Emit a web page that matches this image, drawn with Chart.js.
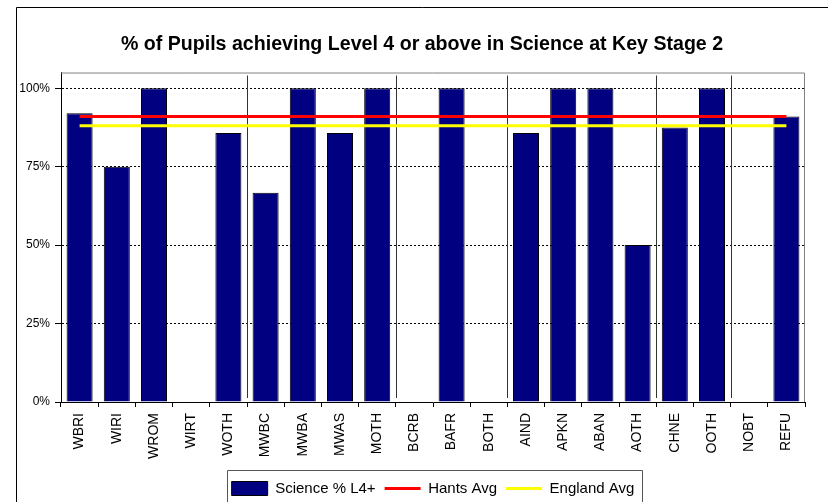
<!DOCTYPE html>
<html>
<head>
<meta charset="utf-8">
<script src="https://cdn.jsdelivr.net/npm/chart.js@4"></script>
<style>
html, body { margin: 0; padding: 0; overflow: hidden; background: #fff; }
#wrap { width: 828px; height: 502px; overflow: hidden; }
</style>
</head>
<body>
<div id="wrap"><canvas id="chart" width="828" height="506"></canvas></div>
<script>
const categories = ["WBRI","WIRI","WROM","WIRT","WOTH","MWBC","MWBA","MWAS","MOTH","BCRB","BAFR","BOTH","AIND","APKN","ABAN","AOTH","CHNE","OOTH","NOBT","REFU"]
const science = [92, 75, 100, 0, 85.7, 66.7, 100, 85.7, 100, 0, 100, 0, 85.7, 100, 100, 50, 87.5, 100, 0, 91]
const hantsAvg = [91, 91, 91, 91, 91, 91, 91, 91, 91, 91, 91, 91, 91, 91, 91, 91, 91, 91, 91, 91]
const englandAvg = [88, 88, 88, 88, 88, 88, 88, 88, 88, 88, 88, 88, 88, 88, 88, 88, 88, 88, 88, 88]
const yTicks = [0, 25, 50, 75, 100]
// group separators sit before these categories
const groupStarts = [5, 9, 12, 16, 18]

const font = "'Liberation Sans', Arial, sans-serif"

// frame, plot border, group separators, legend border
const extras = {
id: "extras",
beforeDatasetsDraw(chart){
const ctx = chart.ctx
const a = chart.chartArea
const x = chart.scales.x
ctx.save()
ctx.strokeStyle = "#808080"
ctx.lineWidth = 1
ctx.beginPath()
ctx.moveTo(a.left, a.top + 0.5)
ctx.lineTo(a.right - 0.5, a.top + 0.5)
ctx.lineTo(a.right - 0.5, a.bottom)
ctx.stroke()
const half = (x.getPixelForValue(1) - x.getPixelForValue(0)) / 2
ctx.strokeStyle = "#333"
groupStarts.forEach(i => {
const px = Math.round(x.getPixelForValue(i) - half) + 0.5
ctx.beginPath()
ctx.moveTo(px, a.top + 3)
ctx.lineTo(px, a.bottom - 4)
ctx.stroke()
})
ctx.restore()
},
afterDraw(chart){
const ctx = chart.ctx
ctx.save()
ctx.strokeStyle = "#000"
ctx.lineWidth = 1
ctx.beginPath()
ctx.moveTo(16.5, 520)
ctx.lineTo(16.5, 7.5)
ctx.lineTo(840, 7.5)
ctx.stroke()
const boxes = chart.legend.legendHitBoxes
if (boxes && boxes.length) {
const first = boxes[0]
const last = boxes[boxes.length - 1]
const l = Math.round(first.left - 5) + 0.5
const r = Math.round(last.left + last.width + 8) + 0.5
const t = Math.round(first.top - 11) + 0.5
ctx.strokeStyle = "#555"
ctx.beginPath()
ctx.moveTo(l, 520)
ctx.lineTo(l, t)
ctx.lineTo(r, t)
ctx.lineTo(r, 520)
ctx.stroke()
}
ctx.restore()
}
}

new Chart(document.getElementById("chart"), {
data: {
labels: categories,
datasets: [
{
type: "bar",
label: "Science % L4+",
data: science,
backgroundColor: "#000080",
borderColor: "#000",
borderWidth: 1,
categoryPercentage: 1,
barPercentage: 0.7,
order: 2
},
{
type: "line",
label: "Hants Avg",
data: hantsAvg,
borderColor: "#FF0000",
backgroundColor: "#FF0000",
borderWidth: 3,
pointRadius: 0,
fill: false,
order: 1
},
{
type: "line",
label: "England Avg",
data: englandAvg,
borderColor: "#FFFF00",
backgroundColor: "#FFFF00",
borderWidth: 3,
pointRadius: 0,
fill: false,
order: 1
}
]
},
options: {
responsive: false,
animation: false,
devicePixelRatio: 1,
layout: { padding: { left: 16, top: 0, right: 0, bottom: 0 } },
plugins: {
title: {
display: true,
text: "% of Pupils achieving Level 4 or above in Science at Key Stage 2",
color: "#000",
font: { family: font, size: 19.6, weight: "bold" },
padding: { top: 33, bottom: 16 }
},
legend: {
position: "bottom",
fullSize: false,
labels: {
color: "#000",
font: { family: font, size: 15 },
usePointStyle: true,
pointStyleWidth: 36,
boxWidth: 36,
boxHeight: 14,
padding: 9,
sort: (a, b) => a.datasetIndex - b.datasetIndex,
generateLabels(chart){
const items = Chart.defaults.plugins.legend.labels.generateLabels(chart)
items.forEach(it => { it.pointStyle = it.datasetIndex === 0 ? "rect" : "line" })
return items
}
}
},
tooltip: { enabled: false }
},
scales: {
x: {
grid: { offset: true, drawOnChartArea: false, drawTicks: true, tickLength: 5, color: "#000" },
border: { color: "#000" },
ticks: {
color: "#000",
font: { family: font, size: 14 },
minRotation: 90,
maxRotation: 90,
autoSkip: false,
padding: 6
},
afterFit(s){ s.height = 70 }
},
y: {
min: 0,
max: 105,
grid: { color: "#000", tickLength: 6, tickColor: "#000" },
border: { color: "#000", dash: [2, 2] },
ticks: {
color: "#000",
font: { family: font, size: 12 },
padding: 5,
stepSize: 25,
callback: v => v + "%"
},
afterBuildTicks(s){ s.ticks = yTicks.map(v => ({ value: v })) },
afterFit(s){ s.width = 45 }
},
y2: {
position: "right",
grid: { display: false },
border: { display: false },
ticks: { display: false },
afterFit(s){ s.width = 23 }
}
}
},
plugins: [extras]
})
</script>
</body>
</html>
